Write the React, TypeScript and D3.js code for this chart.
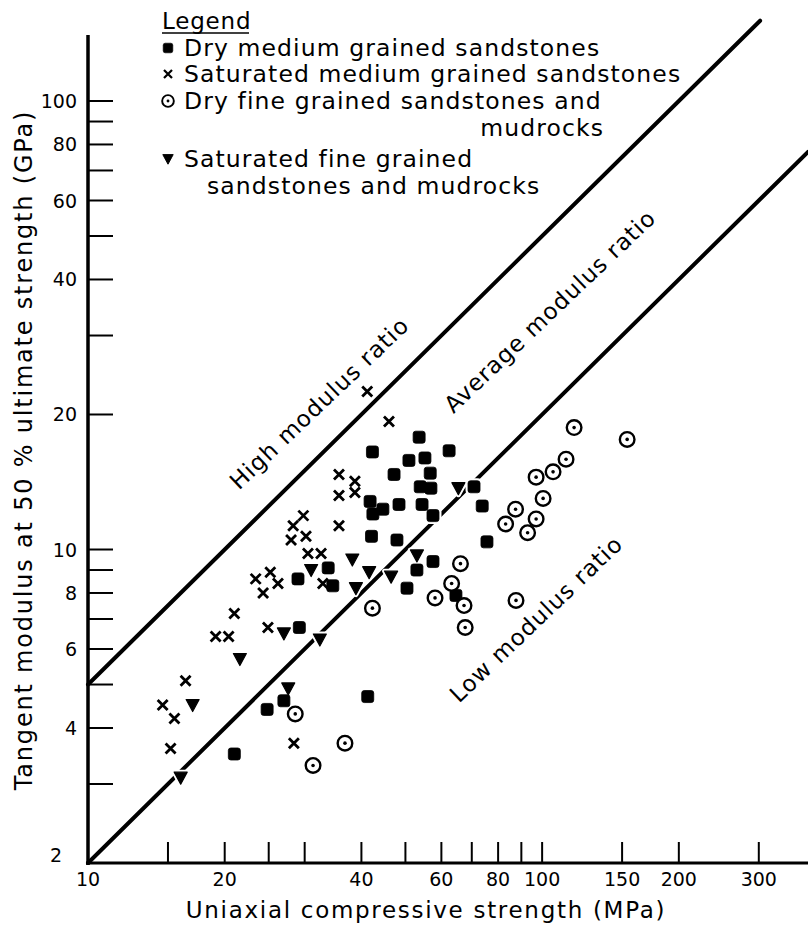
import React, { useEffect, useRef } from 'react';
import * as d3 from 'd3';

// [UCS (MPa), tangent modulus (GPa)]
const dryMedium: [number, number][] = [
	[42.3, 16.5], [53.6, 17.8], [62.4, 16.6], [47.2, 14.7], [50.9, 15.8], [55.2, 16.0],
	[56.7, 14.8], [53.9, 13.8], [56.9, 13.7], [54.4, 12.6], [57.5, 11.9], [41.8, 12.8],
	[44.6, 12.3], [42.4, 12.0], [48.4, 12.6], [42.1, 10.7], [47.9, 10.5], [70.8, 13.8],
	[73.8, 12.5], [75.6, 10.4], [57.5, 9.4], [53.0, 9.0], [50.4, 8.2], [64.6, 7.9],
	[33.8, 9.1], [29.0, 8.6], [34.6, 8.3], [29.2, 6.7], [24.8, 4.4], [27.0, 4.6],
	[41.3, 4.7], [21.0, 3.5]
];
const satMedium: [number, number][] = [
	[41.2, 22.5], [46.0, 19.3], [35.7, 14.7], [38.7, 14.2], [38.7, 13.4], [35.7, 13.2],
	[35.7, 11.3], [29.8, 11.9], [28.3, 11.3], [30.2, 10.7], [28.0, 10.5], [30.5, 9.8],
	[32.6, 9.8], [23.4, 8.6], [25.2, 8.9], [26.2, 8.4], [24.3, 8.0], [21.0, 7.2],
	[19.1, 6.4], [20.4, 6.4], [24.9, 6.7], [32.9, 8.4], [16.4, 5.1], [14.6, 4.5],
	[15.5, 4.2], [15.2, 3.6], [28.4, 3.7]
];
const dryFine: [number, number][] = [
	[117.6, 18.7], [153.9, 17.6], [112.9, 15.9], [105.7, 14.9], [97.0, 14.5], [100.5, 13.0],
	[87.4, 12.3], [83.1, 11.4], [97.0, 11.7], [92.9, 10.9], [66.1, 9.3], [63.2, 8.4],
	[67.3, 7.5], [87.6, 7.7], [67.7, 6.7], [58.1, 7.8], [42.3, 7.4], [28.6, 4.3],
	[36.8, 3.7], [31.3, 3.3]
];
const satFine: [number, number][] = [
	[31.0, 9.0], [38.2, 9.5], [41.6, 8.9], [46.5, 8.7], [38.9, 8.2], [53.0, 9.7],
	[65.4, 13.7], [21.6, 5.7], [17.0, 4.5], [27.6, 4.9], [16.0, 3.1], [27.0, 6.5],
	[32.4, 6.3]
];

const xTicks = [15, 20, 25, 30, 40, 50, 60, 70, 80, 90, 100, 150, 200, 300];
const xTickLabels = [10, 20, 40, 60, 80, 100, 150, 200, 300];
const yTicks = [3, 4, 5, 6, 7, 8, 9, 10, 20, 30, 40, 50, 60, 70, 80, 90, 100];
const yTickLabels = [4, 6, 8, 10, 20, 40, 60, 80, 100];

// modulus ratio lines E = ratio * UCS, drawn from UCS 10 to ucsEnd
const ratioLines = [
	{ ratio: 0.5, ucsEnd: 302 },
	{ ratio: 0.2, ucsEnd: 385 }
];
const ratioLabels = [
	{ text: 'High modulus ratio', ucs: 32.3, e: 21.2 },
	{ text: 'Average modulus ratio', ucs: 104, e: 34 },
	{ text: 'Low modulus ratio', ucs: 97, e: 7.0 }
];

const legendItems = [
	{ kind: 'square', text: 'Dry medium grained sandstones' },
	{ kind: 'cross', text: 'Saturated medium grained sandstones' },
	{ kind: 'circle', text: 'Dry fine grained sandstones and' },
	{ kind: 'triangle', text: 'Saturated fine grained' }
];

const FONT = '"DejaVu Sans", sans-serif';

const drawMarker = ( g: any, kind: string, halo: boolean ) => {
	const col = halo ? '#fff' : '#000';
	if ( kind === 'square' ) {
		g.append( 'rect' ).attr( 'x', -6 ).attr( 'y', -6 ).attr( 'width', 12 ).attr( 'height', 12 )
			.attr( 'rx', 2.5 ).attr( 'fill', col ).attr( 'stroke', col ).attr( 'stroke-width', halo ? 5 : 0.8 );
	} else if ( kind === 'cross' ) {
		g.append( 'path' ).attr( 'd', 'M-5,-5L5,5M-5,5L5,-5' )
			.attr( 'stroke', col ).attr( 'stroke-width', halo ? 7 : 2.8 ).attr( 'fill', 'none' );
	} else if ( kind === 'circle' ) {
		g.append( 'circle' ).attr( 'r', 7.3 ).attr( 'fill', '#fff' )
			.attr( 'stroke', col ).attr( 'stroke-width', halo ? 6 : 2.4 );
		if ( !halo ) g.append( 'circle' ).attr( 'r', 1.8 ).attr( 'fill', '#000' );
	} else {
		g.append( 'path' ).attr( 'd', 'M-6.5,-5.5L6.5,-5.5L0,6.5Z' ).attr( 'fill', col )
			.attr( 'stroke', col ).attr( 'stroke-width', halo ? 5 : 1.2 ).attr( 'stroke-linejoin', 'round' );
	}
};

const Chart = () => {
	const ref = useRef<SVGGElement>( null );

	useEffect( () => {
		const root = d3.select( ref.current );
		root.selectAll( '*' ).remove();

		const x = d3.scaleLog().domain( [ 10, 385 ] ).range( [ 88, 808 ] );
		const y = d3.scaleLog().domain( [ 2, 100 ] ).range( [ 863, 101 ] );

		const txt = ( sel: any, size: number, ls = 0 ) =>
			sel.style( 'font-family', FONT ).style( 'font-size', `${size}px` ).style( 'letter-spacing', `${ls}px` );

		// axes
		root.append( 'line' ).attr( 'x1', 88 ).attr( 'x2', 88 ).attr( 'y1', 865 ).attr( 'y2', 35 )
			.attr( 'stroke', '#000' ).attr( 'stroke-width', 3.5 );
		root.append( 'line' ).attr( 'x1', 86 ).attr( 'x2', 808 ).attr( 'y1', 863 ).attr( 'y2', 863 )
			.attr( 'stroke', '#000' ).attr( 'stroke-width', 3 );

		root.append( 'g' ).selectAll( 'line' ).data( xTicks ).join( 'line' )
			.attr( 'x1', ( d ) => x( d ) ).attr( 'x2', ( d ) => x( d ) )
			.attr( 'y1', 863 ).attr( 'y2', 842 )
			.attr( 'stroke', '#000' ).attr( 'stroke-width', 2 );
		root.append( 'g' ).selectAll( 'line' ).data( yTicks ).join( 'line' )
			.attr( 'x1', 88 ).attr( 'x2', 113 )
			.attr( 'y1', ( d ) => y( d ) ).attr( 'y2', ( d ) => y( d ) )
			.attr( 'stroke', '#000' ).attr( 'stroke-width', 2 );

		txt( root.append( 'g' ).selectAll( 'text' ).data( xTickLabels ).join( 'text' )
			.attr( 'x', ( d ) => x( d ) ).attr( 'y', 886 )
			.attr( 'text-anchor', 'middle' ), 19 )
			.text( ( d ) => d );
		txt( root.append( 'g' ).selectAll( 'text' ).data( yTickLabels ).join( 'text' )
			.attr( 'x', 77 ).attr( 'y', ( d ) => y( d ) + 7 )
			.attr( 'text-anchor', 'end' ), 19 )
			.text( ( d ) => d );
		txt( root.append( 'text' ).attr( 'x', 62 ).attr( 'y', 862 ).attr( 'text-anchor', 'end' ), 19 ).text( '2' );

		txt( root.append( 'text' ).attr( 'x', 426 ).attr( 'y', 918 ).attr( 'text-anchor', 'middle' ), 23, 1.7 )
			.text( 'Uniaxial compressive strength (MPa)' );
		txt( root.append( 'text' ).attr( 'transform', 'translate(32,450) rotate(-90)' ).attr( 'text-anchor', 'middle' ), 24, 1.8 )
			.text( 'Tangent modulus at 50 % ultimate strength (GPa)' );

		// ratio lines
		root.append( 'g' ).selectAll( 'line' ).data( ratioLines ).join( 'line' )
			.attr( 'x1', x( 10 ) ).attr( 'y1', ( d ) => y( 10 * d.ratio ) )
			.attr( 'x2', ( d ) => x( d.ucsEnd ) ).attr( 'y2', ( d ) => y( d.ucsEnd * d.ratio ) )
			.attr( 'stroke', '#000' ).attr( 'stroke-width', 4 ).attr( 'stroke-linecap', 'round' );

		const angle = Math.atan2( y( 100 ) - y( 10 ), x( 100 ) - x( 10 ) ) * 180 / Math.PI + 1;
		txt( root.append( 'g' ).selectAll( 'text' ).data( ratioLabels ).join( 'text' )
			.attr( 'transform', ( d ) => `translate(${x( d.ucs )},${y( d.e )}) rotate(${angle})` )
			.attr( 'text-anchor', 'middle' ).attr( 'dy', '0.35em' ), 23, 1 )
			.text( ( d ) => d.text );

		// points, with a white halo pass first so the lines break around the marks
		const series = [
			{ data: dryMedium, kind: 'square' },
			{ data: satMedium, kind: 'cross' },
			{ data: dryFine, kind: 'circle' },
			{ data: satFine, kind: 'triangle' }
		];
		[ true, false ].forEach( ( halo ) => {
			series.forEach( ( s ) => {
				root.append( 'g' ).selectAll( 'g' ).data( s.data ).join( 'g' )
					.attr( 'transform', ( d ) => `translate(${x( d[ 0 ] )},${y( d[ 1 ] )})` )
					.each( function () {
						drawMarker( d3.select( this ), s.kind, halo );
					} );
			} );
		} );

		// legend
		const leg = root.append( 'g' );
		txt( leg.append( 'text' ).attr( 'x', 162 ).attr( 'y', 29 ), 23, 0.8 ).text( 'Legend' );
		leg.append( 'line' ).attr( 'x1', 162 ).attr( 'x2', 249 ).attr( 'y1', 33 ).attr( 'y2', 33 )
			.attr( 'stroke', '#000' ).attr( 'stroke-width', 1.5 );
		const rows = [ 56, 82, 109, 167 ];
		legendItems.forEach( ( it, i ) => {
			const mg = leg.append( 'g' ).attr( 'transform', `translate(168,${rows[ i ] - 8}) scale(0.8)` );
			drawMarker( mg, it.kind, false );
			txt( leg.append( 'text' ).attr( 'x', 184 ).attr( 'y', rows[ i ] ), 23.5, 1.1 ).text( it.text );
		} );
		txt( leg.append( 'text' ).attr( 'x', 604 ).attr( 'y', 136 ).attr( 'text-anchor', 'end' ), 23.5, 1.1 ).text( 'mudrocks' );
		txt( leg.append( 'text' ).attr( 'x', 207 ).attr( 'y', 194 ), 23.5, 1.1 ).text( 'sandstones and mudrocks' );
	}, [] );

	return (
		<svg width={808} height={929} style={{ position: 'absolute', left: 0, top: 0, background: '#fff' }}>
			<g ref={ref} />
		</svg>
	);
};

export default function App() {
	return <Chart />;
}
